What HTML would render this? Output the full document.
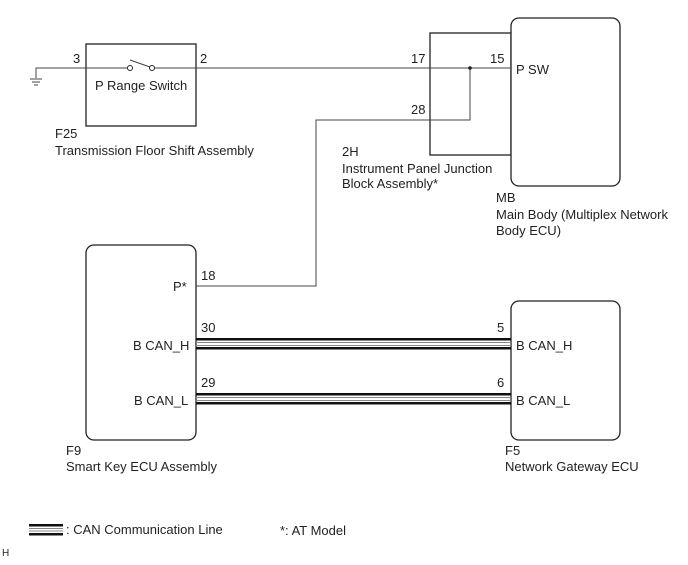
<!DOCTYPE html>
<html><head><meta charset="utf-8"><style>
html,body{margin:0;padding:0;background:#fff;}
svg text{font-family:"Liberation Sans",Arial,sans-serif;font-size:13px;fill:#222;}
</style></head><body>
<svg width="688" height="560" viewBox="0 0 688 560" xmlns="http://www.w3.org/2000/svg">
<g fill="none" stroke="#222" stroke-width="1.3">
<rect x="86" y="44" width="110" height="82"/>
<rect x="430" y="33" width="81" height="122"/>
<rect x="511" y="18" width="109" height="168" rx="8" fill="#fff"/>
<rect x="86" y="245" width="110" height="195" rx="8"/>
<rect x="511" y="301" width="109" height="139" rx="8"/>
</g>
<g fill="none" stroke="#444" stroke-width="1">
<path d="M36 78 V68 H127"/>
<path d="M153 68 H511"/>
<path d="M130 60 L150 67"/>
<path d="M470 68 V120 H316 V286 H196"/>
<path d="M30 79 H42 M32 82 H40 M34 85 H38"/>
</g>
<circle cx="130" cy="68" r="2.5" fill="#fff" stroke="#222"/>
<circle cx="152" cy="68" r="2.5" fill="#fff" stroke="#222"/>
<circle cx="470" cy="68" r="1.8" fill="#222"/>
<g>
<rect x="196" y="338" width="315" height="2.5" fill="#111"/>
<rect x="196" y="342" width="315" height="1" fill="#888"/>
<rect x="196" y="345" width="315" height="1" fill="#888"/>
<rect x="196" y="347" width="315" height="2.5" fill="#111"/>
<rect x="196" y="393" width="315" height="2.5" fill="#111"/>
<rect x="196" y="397" width="315" height="1" fill="#888"/>
<rect x="196" y="400" width="315" height="1" fill="#888"/>
<rect x="196" y="402" width="315" height="2.5" fill="#111"/>
<rect x="29" y="524" width="34" height="2.5" fill="#111"/>
<rect x="29" y="528" width="34" height="1" fill="#888"/>
<rect x="29" y="530.5" width="34" height="1" fill="#888"/>
<rect x="29" y="533" width="34" height="2.5" fill="#111"/>
</g>
<text x="73" y="63">3</text>
<text x="200" y="63">2</text>
<text x="95" y="90">P Range Switch</text>
<text x="55" y="138">F25</text>
<text x="55" y="155">Transmission Floor Shift Assembly</text>
<text x="411" y="63">17</text>
<text x="490" y="63">15</text>
<text x="516" y="74">P SW</text>
<text x="411" y="114">28</text>
<text x="342" y="156">2H</text>
<text x="342" y="173">Instrument Panel Junction</text>
<text x="342" y="188">Block Assembly*</text>
<text x="496" y="202">MB</text>
<text x="496" y="219">Main Body (Multiplex Network</text>
<text x="496" y="235">Body ECU)</text>
<text x="173" y="291">P*</text>
<text x="201" y="280">18</text>
<text x="201" y="332">30</text>
<text x="133" y="350">B CAN_H</text>
<text x="201" y="387">29</text>
<text x="134" y="405">B CAN_L</text>
<text x="497" y="332">5</text>
<text x="516" y="350">B CAN_H</text>
<text x="497" y="387">6</text>
<text x="516" y="405">B CAN_L</text>
<text x="66" y="455">F9</text>
<text x="66" y="471">Smart Key ECU Assembly</text>
<text x="505" y="455">F5</text>
<text x="505" y="471">Network Gateway ECU</text>
<text x="66" y="534">: CAN Communication Line</text>
<text x="280" y="535">*: AT Model</text>
<text x="2" y="556" style="font-size:10px">H</text>
</svg>
</body></html>
